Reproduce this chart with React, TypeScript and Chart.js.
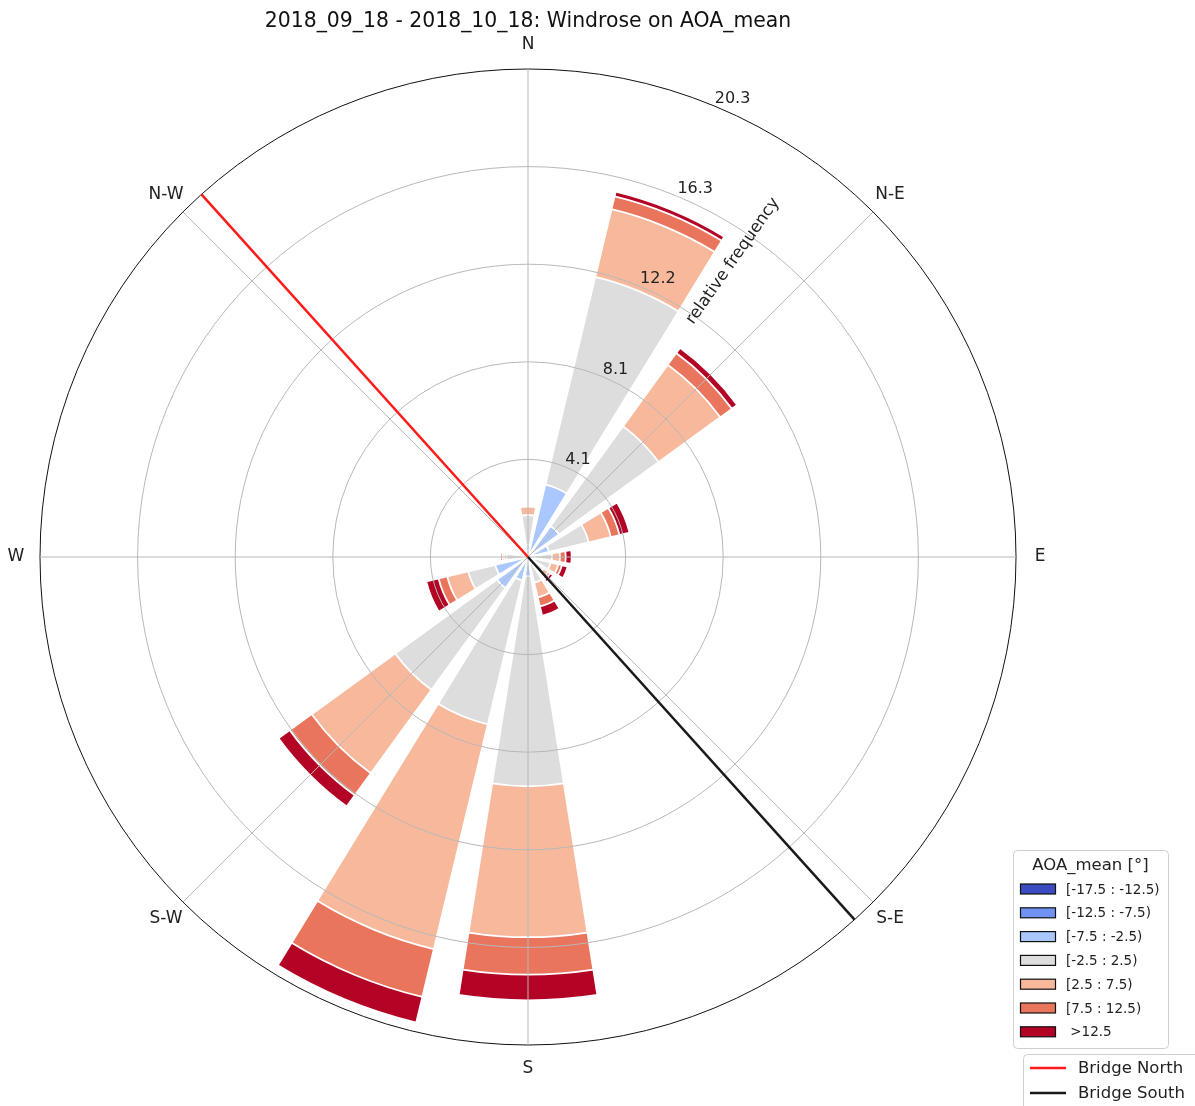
import React, { useEffect, useRef } from 'react';
import { Chart, registerables } from 'chart.js';

Chart.register(...registerables);

// ---------------- data ----------------
const TITLE = '2018_09_18 - 2018_10_18: Windrose on AOA_mean';
const DIRECTIONS = ['N', 'NNE', 'NE', 'ENE', 'E', 'ESE', 'SE', 'SSE', 'S', 'SSW', 'SW', 'WSW', 'W', 'WNW', 'NW', 'NNW'];
const COMPASS_LABELS = ['N', 'N-E', 'E', 'S-E', 'S', 'S-W', 'W', 'N-W'];
const LEGEND_TITLE = 'AOA_mean [°]';
const BIN_LABELS = ['[-17.5 : -12.5)', '[-12.5 : -7.5)', '[-7.5 : -2.5)', '[-2.5 : 2.5)', '[2.5 : 7.5)', '[7.5 : 12.5)', ' >12.5'];
const BIN_COLORS = ['#3b4cc0', '#7092f3', '#aac7fe', '#dddddd', '#f7b89c', '#e8755c', '#b40426'];

// relative frequency (%) per direction (N, NNE, ... NNW) for each AOA bin
const freqNeg17 = [0, 0, 0, 0, 0, 0, 0, 0, 0, 0, 0, 0, 0, 0, 0, 0];
const freqNeg12 = [0, 0, 0, 0, 0, 0, 0, 0, 0, 0, 0, 0, 0, 0, 0, 0];
const freqNeg7 = [0.5, 3.1, 1.6, 0.9, 0.3, 0.3, 0.2, 0.3, 0.8, 1.0, 1.6, 1.4, 0.2, 0.1, 0.05, 0.1];
const freqNeg2 = [1.25, 8.9, 5.13, 1.7, 0.7, 0.67, 0.6, 0.8, 8.75, 6.17, 5.24, 1.16, 0.7, 0.1, 0.1, 0.2];
const freqPos2 = [0.35, 2.9, 3.17, 0.95, 0.33, 0.33, 0.25, 0.63, 6.29, 9.63, 4.3, 0.9, 0.1, 0, 0, 0.05];
const freqPos7 = [0.05, 0.55, 0.6, 0.37, 0.24, 0.15, 0.1, 0.39, 1.56, 2.05, 1.13, 0.37, 0.07, 0, 0, 0];
const freqPos12 = [0, 0.2, 0.27, 0.43, 0.25, 0.25, 0.15, 0.4, 1.07, 1.1, 0.58, 0.53, 0.08, 0, 0, 0];

const RADIAL_TICKS = [4.066, 8.132, 12.198, 16.264, 20.33];
const R_MAX = 20.33;
const BRIDGE_LABELS = ['Bridge North', 'Bridge South'];
const BRIDGE_BEARINGS = [318, 138];
const BRIDGE_COLORS = ['#ff1a1a', '#1a1a1a'];

// ---------------- geometry / style ----------------
const SECTOR_DEG = 360 / DIRECTIONS.length;
const BAR_DEG = 18;
const FONT = '"DejaVu Sans", "Liberation Sans", sans-serif';

const BINS = [freqNeg17, freqNeg12, freqNeg7, freqNeg2, freqPos2, freqPos7, freqPos12];

function cumulativeData(binIndex: number): number[] {
  const out: number[] = [];
  DIRECTIONS.forEach((_, d) => {
    let s = 0;
    for (let b = 0; b <= binIndex; b++) s += BINS[b][d];
    out.push(s);
    out.push(0); // gap sector
  });
  return out;
}

const LABELS32: string[] = [];
DIRECTIONS.forEach((d) => { LABELS32.push(d); LABELS32.push(''); });

function toXY(cx: number, cy: number, r: number, bearingDeg: number): [number, number] {
  const a = (bearingDeg * Math.PI) / 180;
  return [cx + r * Math.sin(a), cy - r * Math.cos(a)];
}

const decorPlugin = {
  id: 'windroseDecor',
  afterDraw(chart: any) {
    const ctx: CanvasRenderingContext2D = chart.ctx;
    const scale = chart.scales.r;
    const cx = scale.xCenter;
    const cy = scale.yCenter;
    const R = scale.getDistanceFromCenterForValue(R_MAX);
    ctx.save();

    // angle grid lines
    ctx.strokeStyle = '#b8b8b8';
    ctx.lineWidth = 1;
    for (let k = 0; k < 8; k++) {
      const [x, y] = toXY(cx, cy, R, k * 45);
      ctx.beginPath();
      ctx.moveTo(cx, cy);
      ctx.lineTo(x, y);
      ctx.stroke();
    }

    // bridge lines
    BRIDGE_BEARINGS.forEach((b, i) => {
      const [x, y] = toXY(cx, cy, R, b);
      ctx.strokeStyle = BRIDGE_COLORS[i];
      ctx.lineWidth = 2.5;
      ctx.beginPath();
      ctx.moveTo(cx, cy);
      ctx.lineTo(x, y);
      ctx.stroke();
    });

    // compass labels
    ctx.fillStyle = '#222';
    ctx.font = `17px ${FONT}`;
    ctx.textAlign = 'center';
    ctx.textBaseline = 'middle';
    COMPASS_LABELS.forEach((lab, k) => {
      const [x, y] = toXY(cx, cy, R + 24, k * 45);
      ctx.fillText(lab, x, y);
    });

    // radial tick labels
    ctx.font = `16px ${FONT}`;
    ctx.textAlign = 'left';
    ctx.textBaseline = 'alphabetic';
    RADIAL_TICKS.forEach((t) => {
      const r = scale.getDistanceFromCenterForValue(t);
      const [x, y] = toXY(cx, cy, r, 22.5);
      ctx.fillText(t.toFixed(1), x, y - 3);
    });

    // axis label
    {
      const [x, y] = toXY(cx, cy, 360, 34.7);
      ctx.save();
      ctx.translate(x, y);
      ctx.rotate((-55 * Math.PI) / 180);
      ctx.font = `16.5px ${FONT}`;
      ctx.textAlign = 'center';
      ctx.textBaseline = 'middle';
      ctx.fillText('relative frequency', 0, 0);
      ctx.restore();
    }

    // title
    ctx.font = `20.4px ${FONT}`;
    ctx.textAlign = 'center';
    ctx.textBaseline = 'middle';
    ctx.fillStyle = '#111';
    ctx.fillText(TITLE, cx, 22);

    // AOA legend
    const roundRect = (x: number, y: number, w: number, h: number, r: number) => {
      ctx.beginPath();
      ctx.moveTo(x + r, y);
      ctx.lineTo(x + w - r, y);
      ctx.quadraticCurveTo(x + w, y, x + w, y + r);
      ctx.lineTo(x + w, y + h - r);
      ctx.quadraticCurveTo(x + w, y + h, x + w - r, y + h);
      ctx.lineTo(x + r, y + h);
      ctx.quadraticCurveTo(x, y + h, x, y + h - r);
      ctx.lineTo(x, y + r);
      ctx.quadraticCurveTo(x, y, x + r, y);
      ctx.closePath();
    };
    ctx.fillStyle = 'rgba(255,255,255,0.85)';
    ctx.strokeStyle = '#cfcfcf';
    ctx.lineWidth = 1;
    roundRect(1013.5, 850.5, 155, 198, 4);
    ctx.fill();
    ctx.stroke();
    ctx.fillStyle = '#222';
    ctx.font = `16.5px ${FONT}`;
    ctx.textAlign = 'center';
    ctx.textBaseline = 'middle';
    ctx.fillText(LEGEND_TITLE, 1090.5, 866);
    ctx.font = `13.5px ${FONT}`;
    ctx.textAlign = 'left';
    BIN_LABELS.forEach((lab, i) => {
      const y = 889 + i * 23.8;
      ctx.fillStyle = BIN_COLORS[i];
      ctx.fillRect(1020.5, y - 5, 35, 10);
      ctx.strokeStyle = '#111';
      ctx.lineWidth = 1.2;
      ctx.strokeRect(1020.5, y - 5, 35, 10);
      ctx.fillStyle = '#222';
      ctx.fillText(lab, 1066, y + 1);
    });

    // Bridge legend
    ctx.fillStyle = 'rgba(255,255,255,0.85)';
    ctx.strokeStyle = '#cfcfcf';
    ctx.lineWidth = 1;
    roundRect(1023.5, 1054.5, 200, 80, 4);
    ctx.fill();
    ctx.stroke();
    ctx.font = `16.5px ${FONT}`;
    BRIDGE_LABELS.forEach((lab, i) => {
      const y = 1068 + i * 25;
      ctx.strokeStyle = BRIDGE_COLORS[i];
      ctx.lineWidth = 2.5;
      ctx.beginPath();
      ctx.moveTo(1030, y);
      ctx.lineTo(1066, y);
      ctx.stroke();
      ctx.fillStyle = '#222';
      ctx.fillText(lab, 1078, y + 1);
    });

    ctx.restore();
  },
};

export default function App() {
  const ref = useRef<HTMLCanvasElement>(null);
  useEffect(() => {
    const canvas = ref.current;
    if (!canvas) return;
    const datasets = BINS.map((_, b) => ({
      label: BIN_LABELS[b],
      data: cumulativeData(b),
      backgroundColor: (c: any) => (c.dataIndex % 2 === 0 ? BIN_COLORS[b] : 'rgba(0,0,0,0)'),
      borderColor: '#ffffff',
      borderWidth: (c: any) => (c.dataIndex % 2 === 0 ? 1.8 : 0),
      angle: (c: any) => (c.dataIndex % 2 === 0 ? BAR_DEG : SECTOR_DEG - BAR_DEG),
    }));
    const chart = new Chart(canvas, {
      type: 'polarArea',
      data: { labels: LABELS32, datasets: datasets as any },
      options: {
        responsive: false,
        animation: false,
        devicePixelRatio: 1,
        layout: { padding: { left: 40, top: 69, right: 179, bottom: 61 } },
        plugins: {
          legend: { display: false },
          title: { display: false },
          tooltip: { enabled: false },
        },
        scales: {
          r: {
            min: 0,
            max: R_MAX,
            startAngle: -BAR_DEG / 2,
            afterBuildTicks: (scale: any) => {
              scale.ticks = [0, ...RADIAL_TICKS].map((v) => ({ value: v }));
            },
            ticks: { display: false, z: 1 },
            grid: {
              display: true,
              circular: true,
              z: 1,
              lineWidth: 1,
              color: (c: any) => (c.tick && c.tick.value === R_MAX ? '#111111' : '#b8b8b8'),
            },
            angleLines: { display: false },
            pointLabels: { display: false },
          },
        },
      } as any,
      plugins: [decorPlugin],
    });
    return () => chart.destroy();
  }, []);
  return (
    <div style={{ position: 'absolute', left: 0, top: 0, width: 1195, height: 1106, background: '#fff' }}>
      <canvas ref={ref} width={1195} height={1106} style={{ display: 'block', width: 1195, height: 1106 }} />
    </div>
  );
}
